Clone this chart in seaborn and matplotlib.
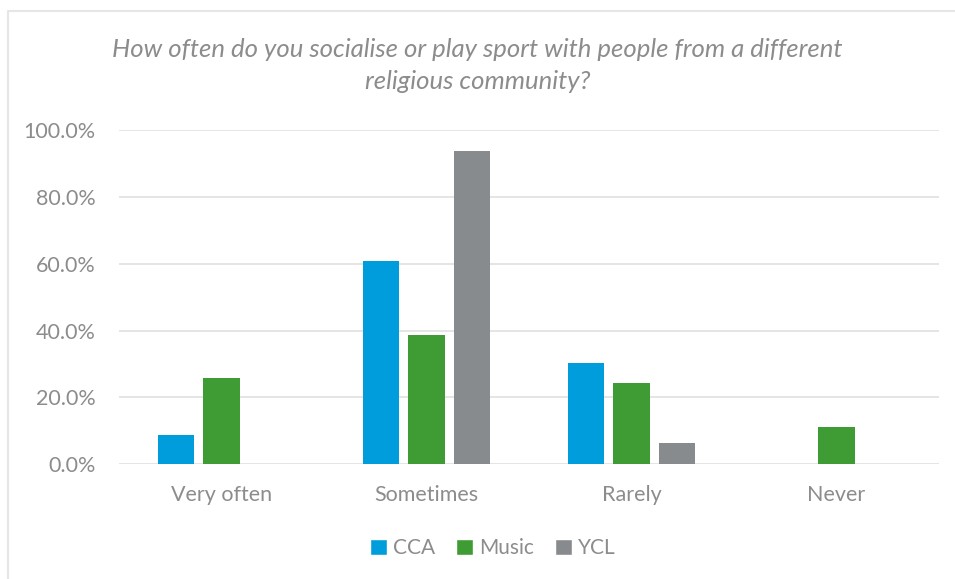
import matplotlib
matplotlib.use("Agg")
import matplotlib.pyplot as plt
from matplotlib.lines import Line2D
from matplotlib.patches import Patch
from matplotlib.ticker import PercentFormatter
import seaborn as sns
import pandas as pd

# Survey responses (% of respondents) per group
categories = ["Very often", "Sometimes", "Rarely", "Never"]
groups = ["CCA", "Music", "YCL"]
cca = [8.7, 60.9, 30.4, 0.0]
music = [25.8, 38.7, 24.2, 11.3]
ycl = [0.0, 93.8, 6.3, 0.0]
yticks = [0, 20, 40, 60, 80, 100]

title = ("How often do you socialise or play sport with people from a different\n"
         "religious community?")
colors = {"CCA": "#009DDC", "Music": "#3F9C35", "YCL": "#888B8D"}

df = pd.DataFrame({
    "category": categories * 3,
    "group": [g for g in groups for _ in categories],
    "value": cca + music + ycl,
})

sns.set_theme(style="white")
plt.rcParams["font.family"] = ["Lato", "DejaVu Sans"]
text_grey = "#8C8C8C"

W, H = 955, 579
fig = plt.figure(figsize=(W / 100, H / 100), dpi=100)
ax = fig.add_axes([119 / W, 1 - 464.3 / H, (939 - 119) / W, (464.3 - 130) / H])

sns.barplot(data=df, x="category", y="value", hue="group", order=categories,
            hue_order=groups, palette=colors, width=0.666, gap=0.2,
            ax=ax, legend=False, saturation=1, linewidth=0)

ax.set_xlim(-0.5, 3.5)
ax.set_ylim(0, 100)
ax.set_yticks(yticks)
ax.yaxis.set_major_formatter(PercentFormatter(decimals=1))
ax.grid(axis="y", color="#E3E3E3", linewidth=1.3)
ax.set_axisbelow(True)
for s in ax.spines.values():
    s.set_visible(False)
ax.set_xlabel("")
ax.set_ylabel("")
ax.tick_params(axis="y", labelsize=15.5, colors=text_grey, length=0, pad=17)
ax.tick_params(axis="x", labelsize=15.5, colors=text_grey, length=0, pad=15)

fig.text(0.5, 1 - 65.5 / H, title, ha="center", va="center", fontsize=18.5,
         style="italic", color=text_grey, linespacing=1.45)

handles = [Patch(facecolor=colors[g], label=g) for g in groups]
fig.legend(handles=handles, loc="center", bbox_to_anchor=(493 / W, 1 - 548 / H),
           ncol=3, frameon=False, fontsize=15, labelcolor=text_grey,
           handlelength=0.8, handleheight=0.8, handletextpad=0.3,
           columnspacing=1.0)

# light frame along the left and top of the chart area
fig.add_artist(Line2D([7.5 / W, 7.5 / W, 1], [0, 1 - 10.5 / H, 1 - 10.5 / H],
                      transform=fig.transFigure, color="#E6E6E6", linewidth=1.5))

fig.savefig("out.png", dpi=100)
